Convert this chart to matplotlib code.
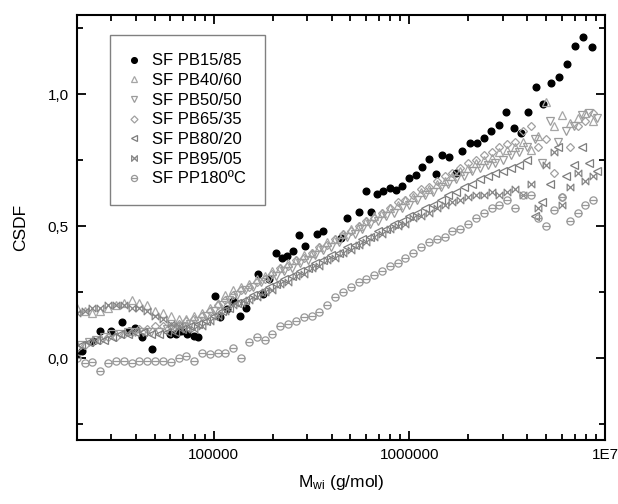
import numpy as np
import matplotlib
matplotlib.use("Agg")
import matplotlib.pyplot as plt
from matplotlib.path import Path
from matplotlib.ticker import LogLocator, MultipleLocator, FuncFormatter, NullFormatter

plt.rcParams['font.family'] = ['Liberation Sans', 'DejaVu Sans']
plt.rcParams['mathtext.fontset'] = 'custom'
plt.rcParams['mathtext.rm'] = 'Liberation Sans'
plt.rcParams['mathtext.it'] = 'Liberation Sans'

# ---------------- data (log10 of Mw and CSDF) ----------------
grid_a = [4.30, 4.34, 4.38, 4.42, 4.46, 4.50, 4.54, 4.58, 4.62, 4.66, 4.70, 4.74, 4.78,
          4.82, 4.86, 4.90, 4.94, 4.98, 5.02, 5.06, 5.10, 5.14, 5.18, 5.22, 5.26, 5.30,
          5.34, 5.38, 5.42, 5.46, 5.50, 5.54, 5.58, 5.62, 5.66, 5.70, 5.74, 5.78, 5.82,
          5.86, 5.90, 5.94, 5.98, 6.02, 6.06, 6.10, 6.14, 6.18, 6.22, 6.26, 6.30, 6.34,
          6.38, 6.42, 6.46, 6.50, 6.54, 6.58, 6.62, 6.66, 6.70, 6.74, 6.78, 6.82, 6.86,
          6.90, 6.94]
grid_b = [4.32, 4.36, 4.40, 4.44, 4.48, 4.52, 4.56, 4.60, 4.64, 4.68, 4.72, 4.76, 4.80,
          4.84, 4.88, 4.92, 4.96, 5.00, 5.04, 5.08, 5.12, 5.16, 5.20, 5.24, 5.28, 5.32,
          5.36, 5.40, 5.44, 5.48, 5.52, 5.56, 5.60, 5.64, 5.68, 5.72, 5.76, 5.80, 5.84,
          5.88, 5.92, 5.96, 6.00, 6.04, 6.08, 6.12, 6.16, 6.20, 6.24, 6.28, 6.32, 6.36,
          6.40, 6.44, 6.48, 6.52, 6.56, 6.60, 6.64, 6.68, 6.72, 6.76, 6.80, 6.84, 6.88,
          6.92, 6.96]

pb15_log = [4.296, 4.327, 4.383, 4.418, 4.474, 4.531, 4.566, 4.597, 4.633, 4.684, 4.776,
            4.806, 4.832, 4.862, 4.898, 4.918, 5.005, 5.031, 5.066, 5.097, 5.133, 5.163,
            5.224, 5.250, 5.281, 5.316, 5.347, 5.372, 5.403, 5.434, 5.464, 5.526, 5.556,
            5.648, 5.679, 5.740, 5.776, 5.806, 5.837, 5.867, 5.903, 5.934, 5.964, 6.000,
            6.036, 6.066, 6.102, 6.138, 6.168, 6.204, 6.240, 6.270, 6.311, 6.347, 6.383,
            6.418, 6.459, 6.495, 6.536, 6.571, 6.607, 6.648, 6.684, 6.724, 6.765, 6.806,
            6.847, 6.888, 6.934]
pb15 = [0.015, 0.027, 0.064, 0.102, 0.102, 0.136, 0.102, 0.114, 0.080, 0.034, 0.091,
        0.091, 0.102, 0.091, 0.083, 0.080, 0.235, 0.155, 0.186, 0.216, 0.159, 0.189,
        0.318, 0.242, 0.299, 0.398, 0.379, 0.386, 0.405, 0.466, 0.424, 0.470, 0.481,
        0.455, 0.530, 0.553, 0.633, 0.553, 0.621, 0.633, 0.644, 0.636, 0.652, 0.682,
        0.693, 0.723, 0.754, 0.697, 0.769, 0.761, 0.701, 0.784, 0.814, 0.814, 0.833,
        0.860, 0.883, 0.932, 0.871, 0.852, 0.932, 1.027, 0.962, 1.042, 1.064, 1.114,
        1.182, 1.216, 1.178]

pb40 = [0.19, 0.18, 0.17, 0.18, 0.19, 0.20, 0.21, 0.22, 0.21, 0.20, 0.18, 0.17, 0.16,
        0.15, 0.15, 0.16, 0.17, 0.19, 0.21, 0.24, 0.26, 0.27, 0.28, 0.30, 0.31, 0.33,
        0.34, 0.36, 0.37, 0.39, 0.40, 0.42, 0.44, 0.45, 0.47, 0.49, 0.50, 0.52, 0.54,
        0.55, 0.57, 0.58, 0.60, 0.61, 0.63, 0.64, 0.66, 0.67, 0.69, 0.71, 0.72, 0.74,
        0.75, 0.76, 0.78, 0.79, 0.80, 0.82, 0.79, 0.84, 0.97, 0.88, 0.92, 0.89, 0.91,
        0.93, 0.90]
pb50 = [0.05, 0.06, 0.07, 0.08, 0.09, 0.09, 0.10, 0.10, 0.10, 0.10, 0.10, 0.11, 0.11,
        0.12, 0.13, 0.14, 0.16, 0.18, 0.20, 0.22, 0.24, 0.26, 0.27, 0.29, 0.30, 0.31,
        0.33, 0.34, 0.36, 0.37, 0.39, 0.41, 0.42, 0.44, 0.46, 0.47, 0.49, 0.51, 0.52,
        0.54, 0.55, 0.57, 0.58, 0.60, 0.62, 0.63, 0.65, 0.66, 0.68, 0.69, 0.71, 0.72,
        0.73, 0.74, 0.75, 0.77, 0.78, 0.80, 0.83, 0.74, 0.90, 0.82, 0.86, 0.88, 0.92,
        0.93, 0.91]
pb65 = [0.04, 0.05, 0.06, 0.07, 0.08, 0.08, 0.09, 0.10, 0.11, 0.11, 0.12, 0.12, 0.12,
        0.13, 0.14, 0.15, 0.16, 0.18, 0.20, 0.22, 0.24, 0.26, 0.27, 0.29, 0.30, 0.32,
        0.34, 0.35, 0.37, 0.38, 0.40, 0.42, 0.43, 0.45, 0.47, 0.48, 0.50, 0.52, 0.53,
        0.55, 0.57, 0.59, 0.60, 0.62, 0.64, 0.65, 0.67, 0.69, 0.70, 0.72, 0.74, 0.75,
        0.77, 0.78, 0.80, 0.81, 0.82, 0.86, 0.88, 0.80, 0.83, 0.70, 0.61, 0.80, 0.88,
        0.90, 0.93]
pb80 = [0.05, 0.06, 0.07, 0.07, 0.08, 0.09, 0.09, 0.10, 0.10, 0.09, 0.09, 0.10, 0.10,
        0.11, 0.12, 0.13, 0.14, 0.16, 0.18, 0.19, 0.21, 0.22, 0.24, 0.25, 0.27, 0.28,
        0.30, 0.31, 0.33, 0.34, 0.36, 0.37, 0.39, 0.40, 0.42, 0.43, 0.45, 0.46, 0.48,
        0.49, 0.51, 0.52, 0.54, 0.55, 0.57, 0.58, 0.60, 0.62, 0.63, 0.65, 0.66, 0.68,
        0.69, 0.70, 0.71, 0.72, 0.73, 0.75, 0.54, 0.59, 0.66, 0.80, 0.69, 0.73, 0.80,
        0.74, 0.71]
pb95 = [0.17, 0.18, 0.19, 0.19, 0.20, 0.20, 0.20, 0.19, 0.19, 0.18, 0.16, 0.15, 0.13,
        0.12, 0.11, 0.11, 0.12, 0.14, 0.16, 0.18, 0.20, 0.21, 0.22, 0.23, 0.25, 0.26,
        0.28, 0.29, 0.31, 0.32, 0.34, 0.35, 0.37, 0.38, 0.40, 0.41, 0.43, 0.44, 0.46,
        0.47, 0.49, 0.50, 0.51, 0.53, 0.54, 0.55, 0.57, 0.58, 0.59, 0.60, 0.61, 0.62,
        0.62, 0.63, 0.62, 0.63, 0.64, 0.62, 0.66, 0.57, 0.73, 0.78, 0.58, 0.65, 0.70,
        0.67, 0.69]
pp180 = [0.00, -0.02, -0.015, -0.05, -0.02, -0.01, -0.01, -0.02, -0.01, -0.01, -0.01,
         -0.01, -0.015, 0.00, 0.01, -0.01, 0.02, 0.015, 0.02, 0.02, 0.04, 0.00, 0.06,
         0.08, 0.07, 0.09, 0.12, 0.13, 0.14, 0.155, 0.16, 0.175, 0.20, 0.23, 0.25, 0.27,
         0.29, 0.30, 0.315, 0.33, 0.35, 0.36, 0.38, 0.40, 0.42, 0.44, 0.45, 0.46, 0.48,
         0.49, 0.51, 0.53, 0.55, 0.57, 0.58, 0.60, 0.57, 0.62, 0.62, 0.53, 0.50, 0.56,
         0.61, 0.52, 0.55, 0.58, 0.60]

labels = ["SF PB15/85", "SF PB40/60", "SF PB50/50", "SF PB65/35",
          "SF PB80/20", "SF PB95/05", "SF PP180ºC"]
xtick_vals = [1e5, 1e6, 1e7]
xtick_labels = ["100000", "1000000", "1E7"]
ytick_vals = [0.0, 0.5, 1.0]
ytick_labels = ["0,0", "0,5", "1,0"]

# ---------------- markers ----------------
bowtie = Path([(-1, -1), (1, 1), (1, -1), (-1, 1), (-1, -1)],
              [Path.MOVETO, Path.LINETO, Path.LINETO, Path.LINETO, Path.CLOSEPOLY])
circ_line = Path.make_compound_path(Path.unit_circle(),
                                    Path([(-1, 0), (1, 0)], [Path.MOVETO, Path.LINETO]))

fig = plt.figure(figsize=(6.18, 5.04), dpi=100)
ax = fig.add_axes([77 / 618, 64 / 504, 528 / 618, 425 / 504])

def pts(logs):
    return 10 ** np.array(logs)

ax.plot(pts(pb15_log), pb15, 'o', ms=4.8, color='black', mec='black', label=labels[0])
series = [
    (grid_a, pb40, '^', 5.6, '#a6a6a6'),
    (grid_b, pb50, 'v', 5.6, '#9c9c9c'),
    (grid_a, pb65, 'D', 4.2, '#a0a0a0'),
    (grid_b, pb80, '<', 5.6, '#7d7d7d'),
    (grid_a, pb95, bowtie, 4.8, '#858585'),
    (grid_a, pp180, circ_line, 5.2, '#999999'),
]
for (gx, gy, mk, ms, col), lab in zip(series, labels[1:]):
    ax.plot(pts(gx), gy, linestyle='none', marker=mk, ms=ms, mfc='none',
            mec=col, mew=0.9, label=lab)

ax.set_xscale('log')
ax.set_xlim(2.0e4, 1e7)
ax.set_ylim(-0.31, 1.30)

ax.xaxis.set_major_locator(LogLocator(base=10, numticks=10))
ax.xaxis.set_minor_locator(LogLocator(base=10, subs=np.arange(2, 10), numticks=20))
ax.xaxis.set_minor_formatter(NullFormatter())
xl = dict(zip(xtick_vals, xtick_labels))
ax.xaxis.set_major_formatter(FuncFormatter(
    lambda v, p: next((t for k, t in xl.items() if abs(v / k - 1) < 1e-6), "")))
ax.yaxis.set_major_locator(MultipleLocator(0.5))
ax.yaxis.set_minor_locator(MultipleLocator(0.25))
yl = dict(zip(ytick_vals, ytick_labels))
ax.yaxis.set_major_formatter(FuncFormatter(
    lambda v, p: next((t for k, t in yl.items() if abs(v - k) < 1e-6), "")))

ax.tick_params(which='both', direction='in', top=True, right=True, width=1.3,
               labelsize=11, colors='black')
ax.tick_params(which='major', length=6.5, pad=6)
ax.tick_params(which='minor', length=4.2)
for s in ax.spines.values():
    s.set_linewidth(1.5)

ax.set_ylabel("CSDF", fontsize=12.5, labelpad=14)
ax.set_xlabel(r"M$_\mathregular{wi}$ (g/mol)", fontsize=12.5, labelpad=8)

leg = ax.legend(loc='upper left', bbox_to_anchor=(33 / 528, 1 - 20 / 425),
                borderaxespad=0, fontsize=12, frameon=True, fancybox=False,
                edgecolor='#606060', handlelength=0.7, handletextpad=0.75,
                labelspacing=0.28, borderpad=1.1, markerscale=0.85)
leg.get_frame().set_linewidth(1.0)

fig.savefig("out.png", dpi=100)
